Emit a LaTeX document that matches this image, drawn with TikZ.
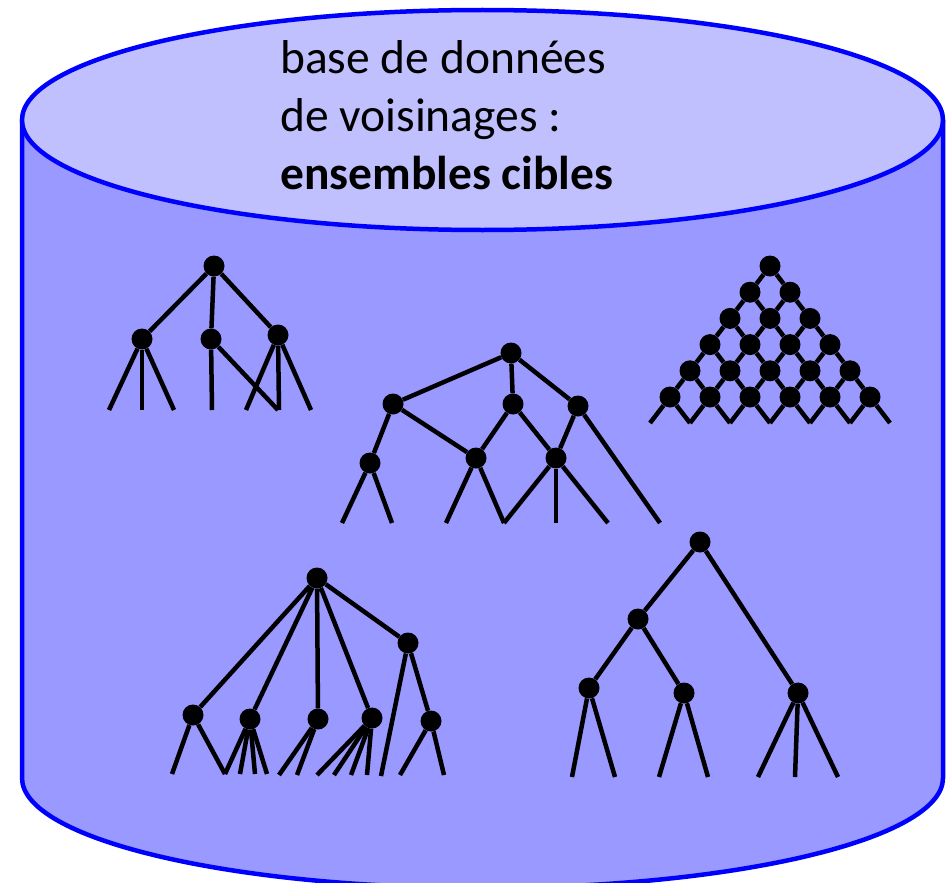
\documentclass[tikz,border=0pt]{standalone}
\usepackage{fontspec}
\setmainfont{Carlito}
\definecolor{dbTop}{RGB}{192, 192, 255}
\definecolor{dbBody}{RGB}{153, 153, 255}
\definecolor{dbRim}{RGB}{0, 0, 255}
\usetikzlibrary{positioning}

\begin{document}
\begin{tikzpicture}[
    x=1pt, y=-1pt,
    rim/.style={draw=dbRim, line width=4.5pt},
    vertex/.style={circle, fill=black, inner sep=0pt, minimum size=21pt},
    edge/.style={draw=black, line width=4.5pt}
  ]
    \useasboundingbox (0,0) rectangle (950,883);

    % the database cylinder
    \fill[dbBody] (22,120) -- (22,778)
      arc[start angle=180, end angle=360, x radius=460.5pt, y radius=110pt]
      -- (943,120) -- cycle;
    \draw[rim] (22,120) -- (22,778)
      arc[start angle=180, end angle=360, x radius=460.5pt, y radius=110pt]
      -- (943,120);
    \draw[rim, fill=dbTop] (482.5,120) ellipse[x radius=460.5pt, y radius=110pt];

    \node[anchor=base west, inner sep=0pt, align=left, font=\fontsize{47.5}{58}\selectfont] (title) at (280,189)
      {base de données\\de voisinages :\\\textbf{ensembles cibles}};

    % tree 1
    \node[vertex] (t1r) at (214,266) {};
    \node[vertex] (t1a) at (142,339) {};
    \node[vertex] (t1b) at (211,339) {};
    \node[vertex] (t1c) at (278,335) {};
    \draw[edge] (t1r) -- (t1a) (t1r) -- (t1b) (t1r) -- (t1c);
    \foreach \x [count=\i] in {109,142,174}
      {\coordinate (t1a\i) at (\x,410); \draw[edge] (t1a) -- (t1a\i);}
    \foreach \x [count=\i] in {212,278}
      {\coordinate (t1b\i) at (\x,410); \draw[edge] (t1b) -- (t1b\i);}
    \foreach \x [count=\i] in {246,279,311}
      {\coordinate (t1c\i) at (\x,410); \draw[edge] (t1c) -- (t1c\i);}

    % tree 2
    \node[vertex] (t2r) at (511,353) {};
    \node[vertex] (t2a) at (393,404) {};
    \node[vertex] (t2b) at (513,404) {};
    \node[vertex] (t2c) at (578,406) {};
    \node[vertex] (t2d) at (370,463) {};
    \node[vertex] (t2e) at (476,458) {};
    \node[vertex] (t2f) at (556,458) {};
    \draw[edge] (t2r) -- (t2a) (t2r) -- (t2b) (t2r) -- (t2c)
      (t2a) -- (t2d) (t2a) -- (t2e) (t2b) -- (t2e) (t2b) -- (t2f) (t2c) -- (t2f);
    \foreach \x [count=\i] in {342,392}
      {\coordinate (t2d\i) at (\x,523); \draw[edge] (t2d) -- (t2d\i);}
    \foreach \x [count=\i] in {446,504}
      {\coordinate (t2e\i) at (\x,523); \draw[edge] (t2e) -- (t2e\i);}
    \foreach \x [count=\i] in {504,556,608}
      {\coordinate (t2f\i) at (\x,523); \draw[edge] (t2f) -- (t2f\i);}
    \coordinate (t2c1) at (660,523);
    \draw[edge] (t2c) -- (t2c1);

    % tree 3 (lattice)
    \foreach \k in {0,...,5}
      \foreach \j in {0,...,\k}
        \node[vertex] (p\k-\j) at ({770+40*(\j-\k/2)},{266+26.2*\k}) {};
    \foreach \j in {0,...,6}
      \coordinate (p6-\j) at ({770+40*(\j-3)},423);
    \foreach \k in {0,...,5}
      \foreach \j in {0,...,\k}
        {\pgfmathtruncatemacro{\kk}{\k+1}\pgfmathtruncatemacro{\jj}{\j+1}
         \draw[edge] (p\k-\j) -- (p\kk-\j) (p\k-\j) -- (p\kk-\jj);}

    % tree 4
    \node[vertex] (t4r) at (317,578) {};
    \node[vertex] (t4a) at (193,715) {};
    \node[vertex] (t4b) at (250,719) {};
    \node[vertex] (t4c) at (318,719) {};
    \node[vertex] (t4d) at (372,718) {};
    \node[vertex] (t4e) at (408,643) {};
    \node[vertex] (t4f) at (431,721) {};
    \draw[edge] (t4r) -- (t4a) (t4r) -- (t4b) (t4r) -- (t4c) (t4r) -- (t4d)
      (t4r) -- (t4e) (t4e) -- (t4f);
    \foreach \x [count=\i] in {172,225}
      {\coordinate (t4a\i) at (\x,774); \draw[edge] (t4a) -- (t4a\i);}
    \foreach \x [count=\i] in {225,240,255,267}
      {\coordinate (t4b\i) at (\x,774); \draw[edge] (t4b) -- (t4b\i);}
    \foreach \x [count=\i] in {279,297}
      {\coordinate (t4c\i) at (\x,775); \draw[edge] (t4c) -- (t4c\i);}
    \foreach \x [count=\i] in {317,334,351,367}
      {\coordinate (t4d\i) at (\x,775); \draw[edge] (t4d) -- (t4d\i);}
    \coordinate (t4e1) at (381,776);
    \draw[edge] (t4e) -- (t4e1);
    \foreach \x [count=\i] in {400,444}
      {\coordinate (t4f\i) at (\x,775); \draw[edge] (t4f) -- (t4f\i);}

    % tree 5
    \node[vertex] (t5r) at (700,542) {};
    \node[vertex] (t5a) at (638,619) {};
    \node[vertex] (t5b) at (798,693) {};
    \node[vertex] (t5c) at (589,688) {};
    \node[vertex] (t5d) at (684,693) {};
    \draw[edge] (t5r) -- (t5a) (t5r) -- (t5b) (t5a) -- (t5c) (t5a) -- (t5d);
    \foreach \x [count=\i] in {572,615}
      {\coordinate (t5c\i) at (\x,777); \draw[edge] (t5c) -- (t5c\i);}
    \foreach \x [count=\i] in {659,708}
      {\coordinate (t5d\i) at (\x,777); \draw[edge] (t5d) -- (t5d\i);}
    \foreach \x [count=\i] in {758,795,838}
      {\coordinate (t5b\i) at (\x,777); \draw[edge] (t5b) -- (t5b\i);}
  \end{tikzpicture}
\end{document}
